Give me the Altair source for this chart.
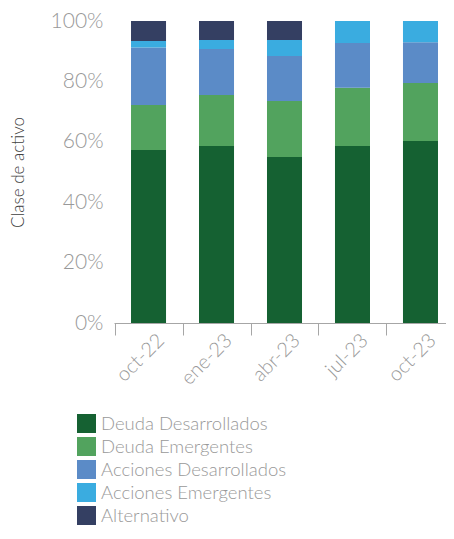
import altair as alt
import pandas as pd

periods = ["oct-22", "ene-23", "abr-23", "jul-23", "oct-23"]
categories = ["Deuda Desarrollados", "Deuda Emergentes", "Acciones Desarrollados",
              "Acciones Emergentes", "Alternativo"]
colors = ["#156132", "#52a35e", "#5b8bc7", "#3aace0", "#343f62"]

deuda_desarrollados = [57.3, 58.6, 55.0, 58.6, 60.3]
deuda_emergentes = [14.9, 16.9, 18.5, 19.3, 19.2]
acciones_desarrollados = [19.0, 15.2, 14.9, 14.8, 13.5]
acciones_emergentes = [2.2, 3.0, 5.3, 7.3, 7.0]
alternativo = [6.6, 6.3, 6.3, 0.0, 0.0]

series = [deuda_desarrollados, deuda_emergentes, acciones_desarrollados,
          acciones_emergentes, alternativo]

rows = []
for ci, (cat, vals) in enumerate(zip(categories, series)):
    for p, v in zip(periods, vals):
        rows.append({"periodo": p, "clase": cat, "orden": ci, "valor": v / 100})
df = pd.DataFrame(rows)

FONT = "Lato Light, Lato"

chart = alt.Chart(df).mark_bar().encode(
    x=alt.X("periodo:N", sort=periods, title=None,
            scale=alt.Scale(paddingInner=0.485, paddingOuter=0.184, align=0.68),
            axis=alt.Axis(labelAngle=-45, tickOffset=-34, labelOffset=39,
                          domainColor="#a6a6a6", tickColor="#a6a6a6", tickSize=12,
                          labelColor="#999999", labelFontSize=20, labelFont=FONT,
                          labelFontWeight=300, labelPadding=-5)),
    y=alt.Y("valor:Q", stack="zero", title="Clase de activo",
            scale=alt.Scale(domain=[0, 1], nice=False),
            axis=alt.Axis(values=[0, 0.2, 0.4, 0.6, 0.8, 1.0], format=".0%",
                          grid=False, domain=False, ticks=False, labelPadding=11,
                          labelColor="#999999", labelFontSize=21, labelFont=FONT,
                          labelFontWeight=300,
                          titleFont=FONT, titleFontSize=17, titleFontWeight=300,
                          titleColor="#404040", titleX=-96, titleY=151,
                          titleAngle=-90, titleBaseline="middle", titleAlign="center")),
    color=alt.Color("clase:N", sort=categories,
                    scale=alt.Scale(domain=categories, range=colors),
                    legend=alt.Legend(title=None, orient="none", legendX=-37, legendY=393,
                                      direction="vertical", symbolType="square",
                                      symbolSize=361, symbolStrokeWidth=0,
                                      labelFont=FONT, labelFontSize=18.5,
                                      labelFontWeight=300, labelColor="#999999",
                                      labelLimit=0, rowPadding=4, labelOffset=5)),
    order=alt.Order("orden:Q", sort="ascending"),
).properties(
    width=332, height=302,
    autosize=alt.AutoSizeParams(type="none"),
    padding={"left": 106, "top": 13, "right": 0, "bottom": 208},
).configure_view(stroke=None)

chart.save("out.html", embed_options={"renderer": "svg", "actions": False})
